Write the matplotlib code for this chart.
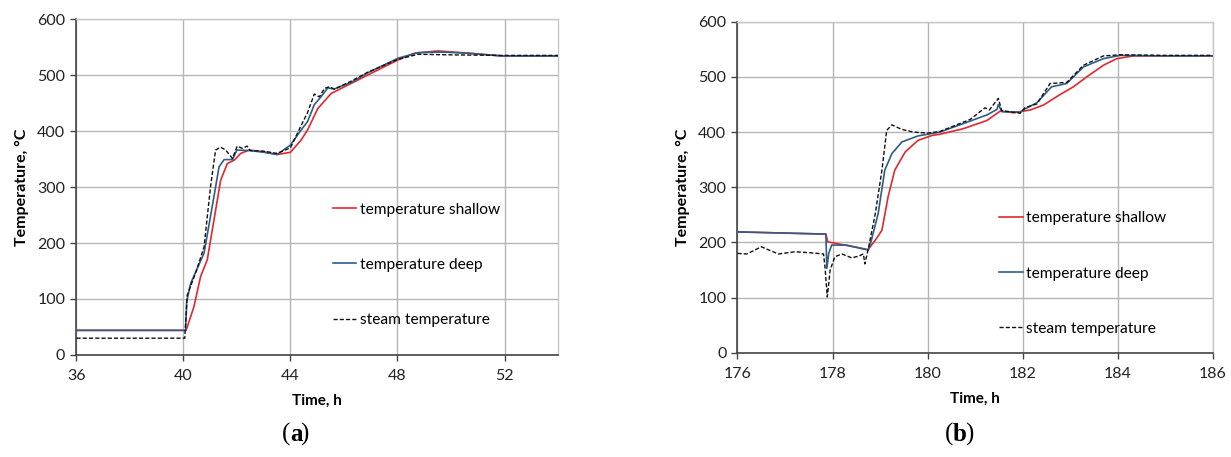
import matplotlib
matplotlib.use("Agg")
import matplotlib.pyplot as plt

plt.rcParams['font.family'] = ['Lato', 'DejaVu Sans']

# ---------------- Panel (a) data ----------------
a_shallow_t = [36, 40.1, 40.39, 40.64, 40.89, 41.14, 41.39, 41.64, 41.9, 42.14, 42.45,
               43.0, 43.5, 44.0, 44.4, 44.64, 45.02, 45.52, 46.27, 46.89, 48.02,
               48.64, 49.52, 50.64, 51.9, 54]
a_shallow_T = [44, 44, 86, 140, 170, 241, 312, 342, 348, 360, 366,
               363, 358, 362, 384, 402, 440, 467, 485, 500, 527,
               539, 543, 539, 534, 534]

a_deep_t = [36, 40.08, 40.12, 40.27, 40.77, 41.14, 41.33, 41.52, 41.83, 42.0, 42.5,
            43.0, 43.5, 44.0, 44.4, 44.64, 44.89, 45.14, 45.39, 45.64, 46.27,
            46.89, 48.02, 48.77, 49.64, 50.64, 51.9, 54]
a_deep_T = [44, 44, 95, 128, 182, 283, 336, 349, 349, 366, 365,
            362, 358, 375, 402, 417, 447, 461, 477, 475, 487,
            504, 530, 540, 541, 539, 534, 534]

a_steam_t = [36, 40.05, 40.14, 40.45, 40.77, 41.01, 41.2, 41.39, 41.58, 41.83, 42.01,
             42.2, 42.38, 42.5, 43.0, 43.5, 44.0, 44.4, 44.64, 44.89, 45.08,
             45.27, 45.45, 45.64, 46.27, 46.89, 48.02, 48.77, 50.0, 51.9, 54]
a_steam_T = [30, 30, 107, 146, 193, 300, 366, 371, 366, 351, 373,
             369, 373, 365, 364, 360, 370, 410, 433, 466, 461,
             476, 479, 475, 489, 505, 528, 537, 536, 535, 535]

# ---------------- Panel (b) data ----------------
b_shallow_t = [176, 177.86, 177.9, 178.75, 178.9, 179.04, 179.17, 179.31, 179.53, 179.8,
               180.1, 180.26, 180.75, 181.25, 181.53, 181.81, 182.16, 182.44, 182.79,
               183.07, 183.35, 183.7, 183.98, 184.33, 185, 186]
b_shallow_T = [219, 215, 201, 187, 204, 222, 283, 331, 364, 385,
               394, 396, 406, 421, 438, 435, 440, 449, 468,
               482, 500, 521, 533, 538, 538, 538]

b_deep_t = [176, 177.86, 177.88, 177.92, 177.98, 178.3, 178.75, 178.8, 178.96, 179.1,
            179.25, 179.46, 179.8, 180.0, 180.26, 180.9, 181.25, 181.46, 181.49, 181.56,
            181.95, 182.05, 182.3, 182.61, 182.93, 183.28, 183.7, 184.05, 185, 186]
b_deep_T = [219, 215, 153, 180, 195, 195, 186, 198, 252, 331,
            361, 382, 393, 396, 400, 420, 431, 441, 450, 437,
            436, 442, 453, 482, 488, 518, 533, 539, 538, 538]

b_steam_t = [176, 176.2, 176.5, 176.86, 177.21, 177.56, 177.81, 177.84, 177.89, 177.95,
             178.05, 178.2, 178.4, 178.55, 178.65, 178.68, 178.75, 178.9, 179.04, 179.14,
             179.25, 179.45, 179.7, 180.0, 180.26, 180.9, 181.21, 181.3, 181.49, 181.56,
             181.95, 182.05, 182.3, 182.58, 182.93, 183.28, 183.7, 184.05, 185, 186]
b_steam_T = [180, 179, 192, 179, 183, 181, 179, 157, 101, 150,
             174, 179, 172, 175, 179, 161, 187, 252, 331, 403,
             413, 405, 400, 398, 401, 423, 444, 440, 461, 439,
             434, 444, 451, 488, 490, 521, 538, 540, 539, 539]

series_labels = ["temperature shallow", "temperature deep", "steam temperature"]
a_xticks = [36, 40, 44, 48, 52]
b_xticks = [176, 178, 180, 182, 184, 186]
yticks = [0, 100, 200, 300, 400, 500, 600]

RED = "#e0282e"
BLUE = "#2f5d86"
BLACK = "#111111"

fig = plt.figure(figsize=(12.31, 4.57), dpi=100)
ax1 = fig.add_axes([0.0621, 0.2232, 0.3912, 0.7352])
ax2 = fig.add_axes([0.5991, 0.2282, 0.3860, 0.7243])


def style(ax, xticks, xlim):
    ax.set_xlim(*xlim)
    ax.set_ylim(0, 600)
    ax.set_xticks(xticks)
    ax.set_yticks(yticks)
    ax.grid(True, color="#b5b5b5", linewidth=1.0)
    ax.set_axisbelow(True)
    for s in ("top", "right"):
        ax.spines[s].set_color("#c8c8c8")
        ax.spines[s].set_linewidth(1.0)
    for s in ("left", "bottom"):
        ax.spines[s].set_color("#444444")
        ax.spines[s].set_linewidth(1.2)
    ax.tick_params(axis="both", direction="out", length=4, width=1.0,
                   color="#444444", labelsize=11.5, labelcolor="#222222", pad=4)
    ax.tick_params(axis="x", pad=6)
    ax.set_xlabel("Time, h", fontsize=11, fontweight="bold", labelpad=8)
    ax.set_ylabel("Temperature, \u00b0C", fontsize=11.5, fontweight="bold", labelpad=6)


ax1.plot(a_shallow_t, a_shallow_T, color=RED, lw=1.2, label=series_labels[0], zorder=3)
ax1.plot(a_deep_t, a_deep_T, color=BLUE, lw=1.2, label=series_labels[1], zorder=4)
ax1.plot(a_steam_t, a_steam_T, color=BLACK, lw=1.0, ls=(0, (3, 1.5)), label=series_labels[2], zorder=5)
style(ax1, a_xticks, (36, 54))

ax2.plot(b_shallow_t, b_shallow_T, color=RED, lw=1.2, label=series_labels[0], zorder=3)
ax2.plot(b_deep_t, b_deep_T, color=BLUE, lw=1.2, label=series_labels[1], zorder=4)
ax2.plot(b_steam_t, b_steam_T, color=BLACK, lw=1.0, ls=(0, (3, 1.5)), label=series_labels[2], zorder=5)
style(ax2, b_xticks, (176, 186))

for ax, anchor in ((ax1, (0.52, 0.472)), (ax2, (0.5377, 0.4456))):
    leg = ax.legend(loc="upper left", bbox_to_anchor=anchor, frameon=False,
                    fontsize=11.2, handlelength=1.5, handletextpad=0.25,
                    labelspacing=2.65, borderaxespad=0)

fig.text(0.2356, 0.035, "(", fontsize=18, family=["Liberation Serif"], ha="right", va="baseline")
fig.text(0.2356, 0.035, "a", fontsize=18, family=["Liberation Serif"], fontweight="bold", ha="left", va="baseline")
fig.text(0.2356 + 0.0085, 0.035, ")", fontsize=18, family=["Liberation Serif"], ha="left", va="baseline")

fig.text(0.7742, 0.035, "(", fontsize=18, family=["Liberation Serif"], ha="right", va="baseline")
fig.text(0.7742, 0.035, "b", fontsize=18, family=["Liberation Serif"], fontweight="bold", ha="left", va="baseline")
fig.text(0.7742 + 0.0098, 0.035, ")", fontsize=18, family=["Liberation Serif"], ha="left", va="baseline")

fig.savefig("out.png", dpi=100)
